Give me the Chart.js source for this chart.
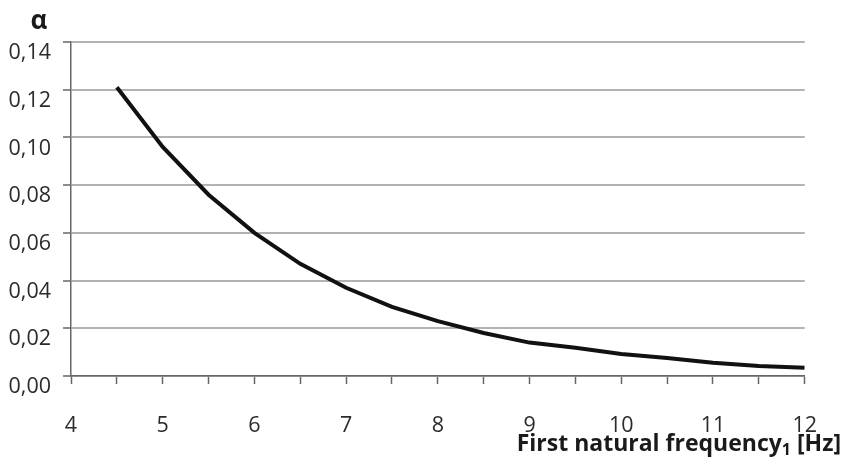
<!DOCTYPE html>
<html>
<head>
<meta charset="utf-8">
<script src="https://cdn.jsdelivr.net/npm/chart.js@4"></script>
<style>
  html, body { margin: 0; padding: 0; background: #fff; }
  #chart { display: block; }
</style>
</head>
<body>
<canvas id="chart" width="846" height="464"></canvas>
<script>
const freqs = [4.5, 5, 5.5, 6, 6.5, 7, 7.5, 8, 8.5, 9, 9.5, 10, 10.5, 11, 11.5, 12];
const alphas = [0.121, 0.096, 0.076, 0.060, 0.047, 0.037, 0.029, 0.023, 0.018, 0.014, 0.0118, 0.0092, 0.0075, 0.0056, 0.0042, 0.0035];

const yAxisTitle = "α";
const xAxisTitle = ["First natural frequency", "1", " [Hz]"];

const FONT = "'Open Sans', 'Noto Sans', sans-serif";
const textColor = "#2b2b2b";
const axisColor = "#666";

// axis titles drawn by hand so the subscript sits right
const titlesPlugin = {
  id: "titles",
  afterDraw(chart) {
    const ctx = chart.ctx;
    ctx.save();
    ctx.fillStyle = "#1a1a1a";
    ctx.textBaseline = "alphabetic";

    ctx.font = `bold 26px ${FONT}`;
    ctx.textAlign = "center";
    ctx.fillText(yAxisTitle, 39, 29);

    const [main, sub, tail] = xAxisTitle;
    const bigFont = `bold 23px ${FONT}`;
    const smallFont = `bold 16px ${FONT}`;
    ctx.font = bigFont;
    const w1 = ctx.measureText(main).width;
    const w3 = ctx.measureText(tail).width;
    ctx.font = smallFont;
    const w2 = ctx.measureText(sub).width;
    const right = 841;
    let x = right - (w1 + w2 + w3);
    const base = 451;
    ctx.textAlign = "left";
    ctx.font = bigFont;
    ctx.fillText(main, x, base);
    x += w1;
    ctx.font = smallFont;
    ctx.fillText(sub, x, base + 4);
    x += w2;
    ctx.font = bigFont;
    ctx.fillText(tail, x, base);
    ctx.restore();
  },
};

new Chart(document.getElementById("chart"), {
  type: "line",
  data: {
    datasets: [
      {
        data: freqs.map((f, i) => ({ x: f, y: alphas[i] })),
        borderColor: "#111",
        borderWidth: 4,
        pointRadius: 0,
        tension: 0,
        fill: false,
      },
    ],
  },
  options: {
    responsive: false,
    animation: false,
    layout: { padding: { top: 42, right: 38, left: 0, bottom: 0 } },
    plugins: {
      legend: { display: false },
      tooltip: { enabled: false },
    },
    scales: {
      x: {
        type: "linear",
        min: 4,
        max: 12,
        afterFit: (scale) => { scale.height = 88; },
        border: { color: axisColor, width: 1.5 },
        grid: {
          drawOnChartArea: false,
          tickLength: 8,
          tickColor: axisColor,
          tickWidth: 1.5,
        },
        ticks: {
          stepSize: 0.5,
          autoSkip: false,
          maxRotation: 0,
          padding: 29,
          color: textColor,
          font: { family: FONT, size: 21.5 },
          callback: (v) => (Number.isInteger(v) ? String(v) : ""),
        },
      },
      y: {
        min: 0,
        max: 0.14,
        afterFit: (scale) => { scale.width = 71; },
        border: { color: axisColor, width: 1.5 },
        grid: {
          color: "#b3b3b3",
          lineWidth: 2,
          tickLength: 8,
          tickColor: axisColor,
          tickWidth: 1.5,
        },
        ticks: {
          stepSize: 0.02,
          padding: 12,
          labelOffset: 11,
          color: textColor,
          font: { family: FONT, size: 21.5 },
          callback: (v) => v.toFixed(2).replace(".", ","),
        },
      },
    },
  },
  plugins: [titlesPlugin],
});
</script>
</body>
</html>
